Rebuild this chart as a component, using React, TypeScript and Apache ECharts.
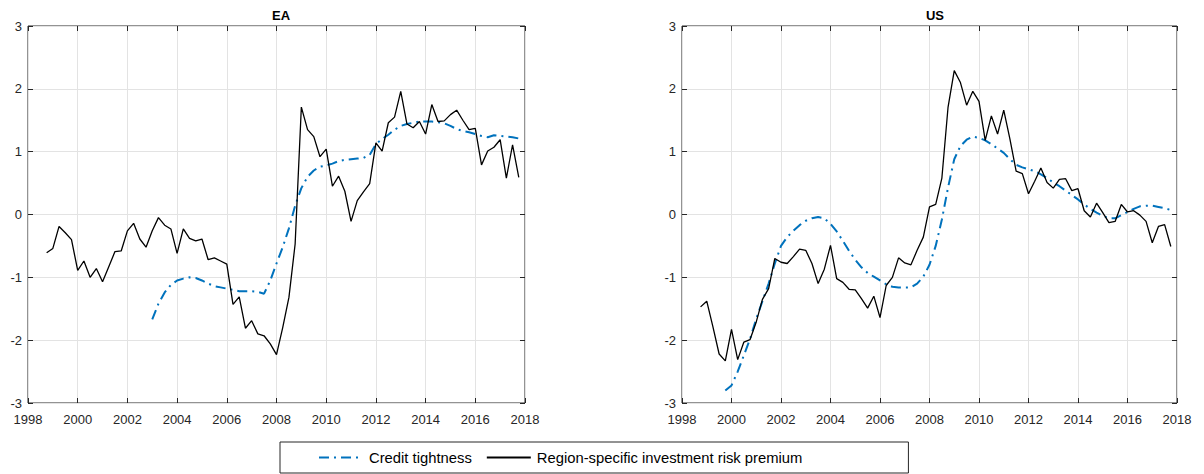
import React, { useEffect, useRef } from "react";
import * as echarts from "echarts";

// Quarterly observations, first quarter 1998Q4 (x = 1998.75), step 0.25 year
const riskStart = 1998.75;
const eaRiskPremium = [
  -0.61, -0.54, -0.19, -0.29, -0.40, -0.89, -0.74, -1.00, -0.86, -1.07,
  -0.83, -0.59, -0.58, -0.26, -0.14, -0.39, -0.52, -0.26, -0.05, -0.17,
  -0.23, -0.62, -0.23, -0.38, -0.42, -0.39, -0.72, -0.69, -0.74, -0.79,
  -1.43, -1.31, -1.81, -1.69, -1.90, -1.93, -2.06, -2.23, -1.80, -1.32,
  -0.47, 1.71, 1.35, 1.24, 0.92, 1.04, 0.45, 0.61, 0.37, -0.11,
  0.22, 0.36, 0.49, 1.14, 1.01, 1.46, 1.55, 1.96, 1.44, 1.38,
  1.48, 1.28, 1.75, 1.48, 1.49, 1.59, 1.66, 1.50, 1.35, 1.37,
  0.79, 1.01, 1.07, 1.19, 0.58, 1.11, 0.59,
];
const usRiskPremium = [
  -1.47, -1.38, -1.79, -2.22, -2.33, -1.83, -2.31, -2.03, -1.99, -1.71,
  -1.35, -1.18, -0.70, -0.76, -0.78, -0.67, -0.55, -0.57, -0.78, -1.10,
  -0.87, -0.49, -1.02, -1.08, -1.19, -1.20, -1.34, -1.49, -1.30, -1.64,
  -1.13, -1.00, -0.69, -0.77, -0.80, -0.57, -0.36, 0.12, 0.16, 0.58,
  1.71, 2.29, 2.10, 1.74, 1.96, 1.80, 1.18, 1.57, 1.28, 1.66,
  1.20, 0.69, 0.65, 0.33, 0.53, 0.74, 0.51, 0.42, 0.56, 0.57,
  0.38, 0.41, 0.06, -0.04, 0.18, 0.03, -0.13, -0.11, 0.16, 0.04,
  0.06, -0.01, -0.11, -0.45, -0.19, -0.16, -0.51,
];
// Credit tightness, EA starts 2003Q1, US starts 1999Q4
const eaCreditStart = 2003.0;
const eaCredit = [
  -1.67, -1.42, -1.24, -1.12, -1.05, -1.02, -1.00, -1.01, -1.05, -1.10,
  -1.14, -1.16, -1.18, -1.20, -1.22, -1.22, -1.22, -1.23, -1.26, -1.05,
  -0.78, -0.52, -0.22, 0.14, 0.42, 0.60, 0.70, 0.76, 0.78, 0.81,
  0.85, 0.87, 0.88, 0.89, 0.90, 0.95, 1.12, 1.20, 1.27, 1.35,
  1.41, 1.44, 1.46, 1.48, 1.48, 1.48, 1.47, 1.45, 1.41, 1.36,
  1.33, 1.31, 1.28, 1.25, 1.23, 1.26, 1.25, 1.24, 1.23, 1.21,
];
const usCreditStart = 1999.75;
const usCredit = [
  -2.80, -2.72, -2.50, -2.24, -1.98, -1.66, -1.38, -1.10, -0.78, -0.50,
  -0.36, -0.26, -0.17, -0.10, -0.06, -0.04, -0.06, -0.15, -0.27, -0.42,
  -0.58, -0.72, -0.84, -0.93, -0.99, -1.05, -1.11, -1.15, -1.16, -1.16,
  -1.16, -1.10, -0.99, -0.80, -0.50, -0.08, 0.43, 0.88, 1.09, 1.19,
  1.24, 1.22, 1.18, 1.12, 1.05, 0.98, 0.88, 0.79, 0.75, 0.72,
  0.69, 0.64, 0.58, 0.51, 0.45, 0.38, 0.31, 0.24, 0.16, 0.09,
  0.03, -0.02, -0.06, -0.06, -0.01, 0.04, 0.09, 0.13, 0.14, 0.14,
  0.12, 0.10, 0.07,
];
const panelTitles = ["EA", "US"];
const seriesNames = ["Credit tightness", "Region-specific investment risk premium"];
const xTicks = { min: 1998, max: 2018, interval: 2 };
const yTicks = { min: -3, max: 3, interval: 1 };

const toPairs = (start: number, vals: number[]) =>
  vals.map((v, i) => [start + 0.25 * i, v]);

const FONT = "Liberation Sans, Arial, Helvetica, sans-serif";
const BLUE = "#0072BD";
const AXIS = "#262626";

export default function App() {
  const ref = useRef<HTMLDivElement>(null);
  useEffect(() => {
    if (!ref.current) return;
    const chart = echarts.init(ref.current, null, { renderer: "svg" });
    const grids = [
      { left: 28, right: 679, top: 26, bottom: 71 },
      { left: 682, right: 27, top: 26, bottom: 71 },
    ].map((g) => ({ ...g, show: true, borderColor: AXIS, borderWidth: 1, backgroundColor: "#fff" }));

    const tick = { show: true, inside: true, length: 5, lineStyle: { color: AXIS } };
    const noLine = { show: false, onZero: false };
    const xAxis: any[] = [];
    const yAxis: any[] = [];
    [0, 1].forEach((gi) => {
      xAxis.push({
        type: "value", gridIndex: gi, position: "bottom", ...xTicks,
        axisLine: noLine, axisTick: tick,
        axisLabel: {
          color: "#262626", fontSize: 13, fontFamily: FONT, margin: 10,
          formatter: (v: number) => String(v),
        },
        splitLine: { show: true, lineStyle: { color: "#e3e3e3", width: 1 } },
      });
      xAxis.push({
        type: "value", gridIndex: gi, position: "top", ...xTicks,
        axisLine: noLine, axisTick: tick,
        axisLabel: { show: false }, splitLine: { show: false },
      });
      yAxis.push({
        type: "value", gridIndex: gi, position: "left", ...yTicks,
        axisLine: noLine, axisTick: tick,
        axisLabel: { color: "#262626", fontSize: 13, fontFamily: FONT, margin: 6 },
        splitLine: { show: true, lineStyle: { color: "#e3e3e3", width: 1 } },
      });
      yAxis.push({
        type: "value", gridIndex: gi, position: "right", ...yTicks,
        axisLine: noLine, axisTick: tick,
        axisLabel: { show: false }, splitLine: { show: false },
      });
    });

    const creditStyle = { color: BLUE, width: 2, type: [10, 5, 2, 5] as any };
    const riskStyle = { color: "#000", width: 1.3 };
    const mk = (name: string, gi: number, data: number[][], style: any, z: number) => ({
      name, type: "line", xAxisIndex: gi * 2, yAxisIndex: gi * 2, data,
      showSymbol: false, symbol: "none", lineStyle: style, itemStyle: { color: style.color },
      z, silent: true,
    });

    chart.setOption({
      animation: false,
      backgroundColor: "#fff",
      title: panelTitles.map((t, i) => ({
        text: t, left: i === 0 ? 276 : 930, top: 4, textAlign: "center",
        textStyle: { fontSize: 13, fontWeight: "bold", fontFamily: FONT, color: "#000" },
      })),
      grid: grids,
      xAxis, yAxis,
      legend: {
        data: seriesNames,
        left: 280, top: 442,
        padding: [8, 106, 8, 38],
        borderColor: AXIS, borderWidth: 1, backgroundColor: "#fff",
        itemWidth: 44, itemHeight: 14, itemGap: 14,
        itemStyle: { opacity: 0, borderWidth: 0 },
        textStyle: { fontSize: 14.8, fontFamily: FONT, color: "#000", padding: [0, 0, 0, 1] },
        selectedMode: false,
      },
      series: [
        mk(seriesNames[0], 0, toPairs(eaCreditStart, eaCredit), creditStyle, 3),
        mk(seriesNames[1], 0, toPairs(riskStart, eaRiskPremium), riskStyle, 4),
        mk(seriesNames[0], 1, toPairs(usCreditStart, usCredit), creditStyle, 3),
        mk(seriesNames[1], 1, toPairs(riskStart, usRiskPremium), riskStyle, 4),
      ],
    });
    return () => chart.dispose();
  }, []);
  return (
    <div
      ref={ref}
      style={{ position: "fixed", left: 0, top: 0, width: 1204, height: 474 }}
    />
  );
}
